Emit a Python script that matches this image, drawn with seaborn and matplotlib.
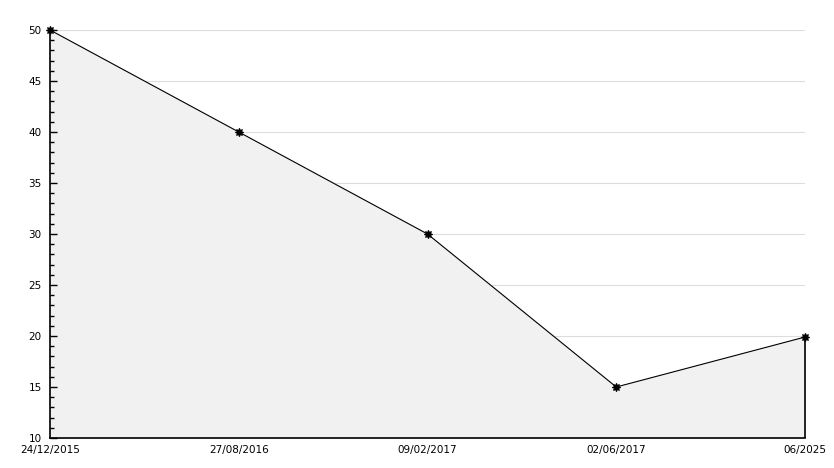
import matplotlib
matplotlib.use("Agg")
import matplotlib.pyplot as plt
from matplotlib.ticker import MultipleLocator
import seaborn as sns
import pandas as pd

dates = ["24/12/2015", "27/08/2016", "09/02/2017", "02/06/2017", "06/2025"]
values = [50, 40, 30, 15, 19.9]
grid_levels = [15, 20, 25, 30, 35, 40, 45, 50]

df = pd.DataFrame({"pos": range(len(dates)), "value": values})

sns.set_style("white")
plt.rcParams["font.family"] = ["DejaVu Sans"]

fig = plt.figure(figsize=(8.34, 4.68), dpi=100)
ax = fig.add_axes([50 / 834, 30 / 468, 755 / 834, 408 / 468])

# grid under the shaded area, ticks above it
for g in grid_levels:
    ax.axhline(g, color="#dddddd", lw=0.8, zorder=0.5)

ax.fill_between(df["pos"], df["value"], 10, color="#f1f1f1", zorder=1)
ax.vlines(df["pos"].iloc[-1], 10, df["value"].iloc[-1], color="black", lw=1.2,
          zorder=2, clip_on=False)

sns.lineplot(data=df, x="pos", y="value", ax=ax, color="black", lw=0.8,
             marker=(8, 1, 0), markersize=6, markeredgecolor="black",
             zorder=3, clip_on=False)

ax.set_xlim(0, len(dates) - 1)
ax.set_ylim(10, 50)
ax.set_xticks(df["pos"])
ax.set_xticklabels(dates)
ax.yaxis.set_major_locator(MultipleLocator(5))
ax.yaxis.set_minor_locator(MultipleLocator(1))
ax.grid(False)
ax.set_axisbelow(False)

for s in ["top", "right"]:
    ax.spines[s].set_visible(False)
for s in ["left", "bottom"]:
    ax.spines[s].set_color("black")
    ax.spines[s].set_linewidth(1.2)

ax.tick_params(axis="x", length=0, labelsize=7.5, pad=5, labelcolor="black")
ax.tick_params(axis="y", which="major", direction="in", length=5, width=1,
               color="black", labelsize=7.5, pad=6, left=True, labelcolor="black")
ax.tick_params(axis="y", which="minor", direction="in", length=3, width=1,
               color="black", left=True)
ax.set_xlabel("")
ax.set_ylabel("")

fig.savefig("out.png", dpi=100)
